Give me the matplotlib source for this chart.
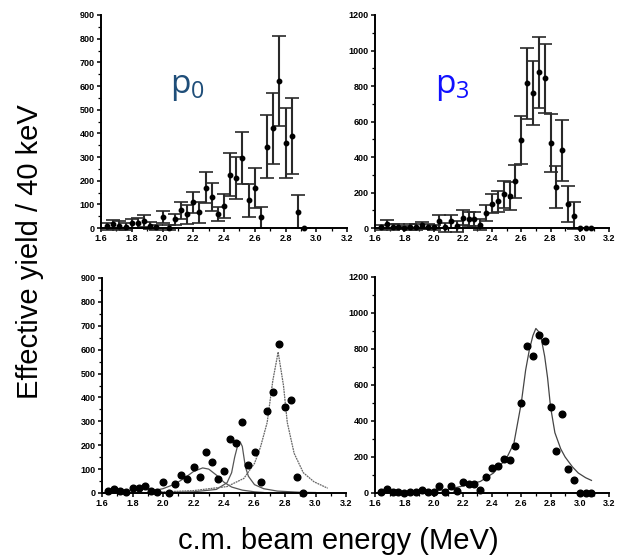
import numpy as np
import matplotlib
matplotlib.use("Agg")
from matplotlib import pyplot as plt
from matplotlib.ticker import MultipleLocator, FormatStrFormatter

plt.rcParams['font.family'] = ['Liberation Sans', 'DejaVu Sans']
plt.rcParams['font.weight'] = 'bold'          # tick labels are heavy in the original
plt.rcParams['mathtext.fontset'] = 'custom'
plt.rcParams['mathtext.rm'] = 'Open Sans:weight=normal'

# ---- p0 data (energy MeV, yield, error) ----
p0_e = [1.64, 1.68, 1.72, 1.76, 1.80, 1.84, 1.88, 1.92, 1.96, 2.00, 2.04, 2.08, 2.12, 2.16, 2.20,
        2.24, 2.28, 2.32, 2.36, 2.40, 2.44, 2.48, 2.52, 2.56, 2.60, 2.64, 2.68, 2.72, 2.76, 2.80,
        2.84, 2.88, 2.92]
p0_y = [8, 15, 10, 5, 20, 22, 30, 10, 3, 45, 2, 36, 75, 59, 108,
        66, 170, 131, 59, 92, 226, 211, 296, 117, 170, 45, 343, 421, 622, 361,
        389, 68, 0]
p0_err = [15, 20, 18, 15, 20, 22, 25, 15, 10, 25, 10, 25, 35, 40, 45,
          45, 65, 60, 30, 50, 90, 90, 110, 70, 85, 45, 133, 150, 190, 148,
          160, 70, 0]

# ---- p3 data ----
p3_e = [1.64, 1.68, 1.72, 1.76, 1.80, 1.84, 1.88, 1.92, 1.96, 2.00, 2.04, 2.08, 2.12, 2.16, 2.20,
        2.24, 2.28, 2.32, 2.36, 2.40, 2.44, 2.48, 2.52, 2.56, 2.60, 2.64, 2.68, 2.72, 2.76, 2.80,
        2.84, 2.88, 2.92, 2.96, 3.00, 3.04, 3.08]
p3_y = [3, 20, 5, 8, 2, 5, 6, 15, 8, 3, 37, 3, 37, 9, 59,
        52, 52, 18, 87, 138, 151, 190, 181, 262, 498, 816, 761, 877, 844, 480,
        231, 437, 135, 70, 0, 0, 0]
p3_err = [15, 25, 15, 15, 10, 15, 15, 20, 15, 15, 35, 25, 35, 30, 40,
          40, 40, 30, 45, 55, 60, 75, 80, 95, 135, 200, 180, 200, 195, 163,
          120, 170, 100, 75, 0, 0, 0]

# ---- fitted curves ----
p0_fit1_e = [1.92, 2.00, 2.08, 2.14, 2.20, 2.26, 2.30, 2.35, 2.40, 2.45, 2.52, 2.60, 2.66]
p0_fit1_y = [8, 18, 38, 62, 90, 105, 100, 75, 45, 25, 12, 5, 2]
p0_fit2_e = [1.90, 2.20, 2.35, 2.42, 2.45, 2.47, 2.49, 2.505, 2.52, 2.54, 2.56, 2.60, 2.66, 2.75, 2.90, 3.00]
p0_fit2_y = [1, 5, 15, 43, 85, 150, 200, 215, 195, 110, 70, 35, 18, 8, 3, 2]
p0_fit3_e = [1.90, 2.20, 2.42, 2.53, 2.60, 2.64, 2.683, 2.72, 2.755, 2.79, 2.815, 2.86, 2.92, 2.99, 3.08]
p0_fit3_y = [2, 10, 27, 61, 124, 194, 295, 470, 590, 450, 295, 166, 85, 47, 20]

p3_fit_e = [1.60, 1.80, 1.97, 2.10, 2.19, 2.32, 2.41, 2.50, 2.55, 2.60, 2.63, 2.655, 2.68, 2.70,
            2.73, 2.76, 2.78, 2.80, 2.83, 2.87, 2.90, 2.95, 2.99, 3.04, 3.08]
p3_fit_y = [2, 5, 9, 20, 37, 64, 111, 194, 277, 499, 683, 794, 875, 914,
            886, 760, 640, 480, 335, 245, 200, 145, 111, 85, 70]


def style_axis(ax, ymax, ymajor):
    ax.set_xlim(1.6, 3.2)
    ax.set_ylim(0, ymax)
    for s in ['top', 'right']:
        ax.spines[s].set_visible(False)
    for s in ['left', 'bottom']:
        ax.spines[s].set_linewidth(1.4)
    ax.xaxis.set_major_locator(MultipleLocator(0.2))
    ax.xaxis.set_minor_locator(MultipleLocator(0.1))
    ax.xaxis.set_major_formatter(FormatStrFormatter('%.1f'))
    ax.yaxis.set_major_locator(MultipleLocator(ymajor))
    ax.yaxis.set_minor_locator(MultipleLocator(ymajor / 2))
    ax.tick_params(which='major', direction='out', length=3, width=1.1, pad=1.5,
                   labelsize=6.5)
    ax.tick_params(which='minor', direction='out', length=2, width=0.9)
    ax.patch.set_alpha(0)


fig = plt.figure(figsize=(6.17, 5.58), dpi=100)
W, H = 617.0, 558.0

ax1 = fig.add_axes([101 / W, 1 - 228 / H, 246 / W, 213 / H])
ax2 = fig.add_axes([375 / W, 1 - 228 / H, 234 / W, 213 / H])
ax3 = fig.add_axes([102 / W, 1 - 493 / H, 244 / W, 215 / H])
ax4 = fig.add_axes([375 / W, 1 - 493 / H, 234 / W, 216 / H])

# upper panels: data with error bars
ax1.errorbar(p0_e, p0_y, yerr=p0_err, fmt='o', ms=3.2, color='black', ecolor='#2a2a2a',
             elinewidth=1.5, capsize=5, capthick=1.2, clip_on=False)
ax2.errorbar(p3_e, p3_y, yerr=p3_err, fmt='o', ms=3.2, color='black', ecolor='#2a2a2a',
             elinewidth=1.5, capsize=5, capthick=1.2, clip_on=False)

# lower panels: data with fits
ax3.plot(p0_fit1_e, p0_fit1_y, color='#555555', lw=0.9)
ax3.plot(p0_fit2_e, p0_fit2_y, color='#555555', lw=0.9)
ax3.plot(p0_fit3_e, p0_fit3_y, color='#666666', lw=0.9, ls=(0, (1.5, 0.6)))
ax3.plot(p0_e, p0_y, 'o', ms=4.8, color='black', clip_on=False)
ax4.plot(p3_fit_e, p3_fit_y, color='#444444', lw=0.9)
ax4.plot(p3_e, p3_y, 'o', ms=4.8, color='black', clip_on=False)

style_axis(ax1, 900, 100)
style_axis(ax2, 1200, 200)
style_axis(ax3, 900, 100)
style_axis(ax4, 1200, 200)

# channel labels
fig.text(170 / W, 1 - 93 / H, r'p$_{\mathrm{0}}$', fontsize=24, color='#1F4E79',
         family=['Open Sans', 'DejaVu Sans'], fontweight='normal', va='baseline')
fig.text(435 / W, 1 - 93 / H, r'p$_{\mathrm{3}}$', fontsize=24, color='#1010FF',
         family=['Open Sans', 'DejaVu Sans'], fontweight='normal', va='baseline')

fig.text(30 / W, 1 - 252 / H, 'Effective yield / 40 keV', rotation=90,
         fontsize=21, fontweight='normal', ha='center', va='center')
fig.text(338 / W, 1 - 541 / H, 'c.m. beam energy (MeV)',
         fontsize=21, fontweight='normal', ha='center', va='center')

fig.savefig('out.png', dpi=100)
